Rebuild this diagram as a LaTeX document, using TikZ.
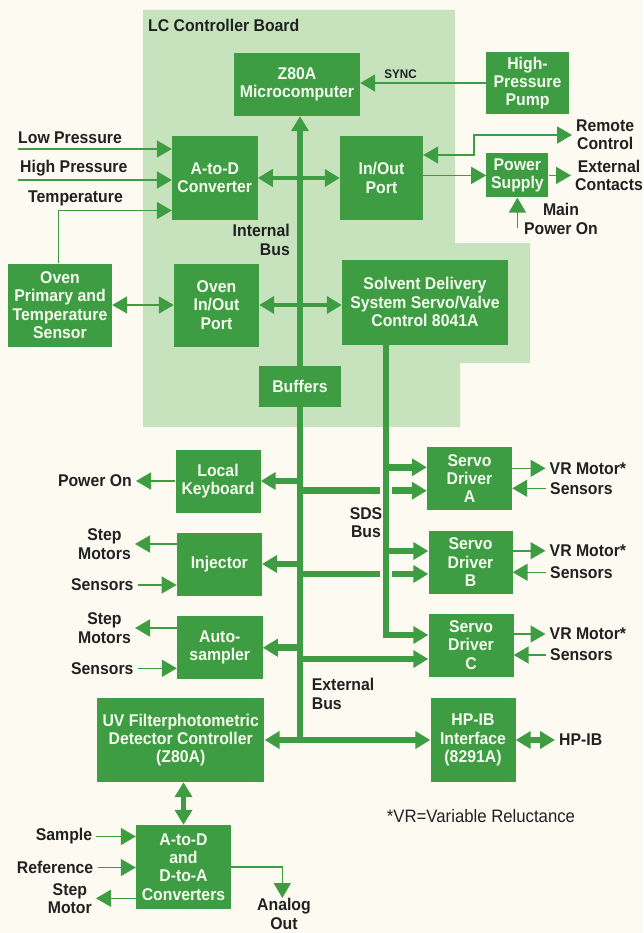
\documentclass[tikz,border=0pt]{standalone}
\usepackage{fontspec}
\setsansfont{Liberation Sans}
\newfontfamily\boardfam{Liberation Sans}[FakeStretch=0.93]
\usetikzlibrary{arrows.meta,calc}
\definecolor{paper}{RGB}{252,250,241}
\definecolor{board}{RGB}{199,227,190}
\definecolor{dg}{RGB}{62,157,66}
\definecolor{boxtext}{RGB}{244,251,238}
\definecolor{ink}{RGB}{32,34,32}
\newcommand\boardfont{\boardfam\bfseries\fontsize{17}{18.3}\selectfont}
\tikzset{
    box/.style =    {rectangle,
                    fill=dg,
                    text=boxtext,
                    align=center,
                    inner sep=0pt,
                    font=\boardfont},
    boxsize/.style 2 args = {minimum width=#1pt,
                    minimum height=#2pt},
    lbl/.style =    {text=ink,
                    align=center,
                    inner xsep=4pt,
                    inner ysep=0pt,
                    font=\boardfont},
    sig/.style =    {draw=dg, line width=1.6pt},
    mid/.style =    {draw=dg, line width=4.5pt},
    bus/.style =    {draw=dg, line width=6.5pt},
    >={Triangle[length=15pt,width=17pt]}}

\begin{document}
\begin{tikzpicture}[x=1pt,y=-1pt]
    \useasboundingbox (0,0) rectangle (643,933);
    \fill[paper] (0,0) rectangle (643,933);
    % controller board
    \fill[board] (143,10) -- (455,10) -- (455,243) -- (530,243) -- (530,363)
        -- (460,363) -- (460,427) -- (143,427) -- cycle;
    \node[lbl, anchor=west] (title) at (144,25) {LC Controller Board};

    % boxes on the board
    \node[box, boxsize={126}{63}]   (z80)     at (297,84.5)  {Z80A\\Microcomputer};
    \node[box, boxsize={85.5}{84}]  (adc)     at (214.8,178) {A-to-D\\Converter};
    \node[box, boxsize={83}{84}]    (inout)   at (381.5,178) {In/Out\\Port};
    \node[box, boxsize={85}{83}]    (ovenio)  at (216.5,305) {Oven\\In/Out\\Port};
    \node[box, boxsize={166}{85}]   (sds)     at (425,302)   {Solvent Delivery\\System Servo/Valve\\Control 8041A};
    \node[box, boxsize={82}{41}]    (buffers) at (300,386.6) {Buffers};

    % boxes off the board
    \node[box, boxsize={83}{62}]    (pump)    at (527.5,83)  {High-\\Pressure\\Pump};
    \node[box, boxsize={62}{44}]    (psu)     at (517.4,175.4) {Power\\Supply};
    \node[box, boxsize={104}{83}]   (oven)    at (60,305)    {Oven\\Primary and\\Temperature\\Sensor};
    \node[box, boxsize={85}{63}]    (keyb)    at (218,481)   {Local\\Keyboard};
    \node[box, boxsize={85}{63}]    (inj)     at (219.3,564) {Injector};
    \node[box, boxsize={85.5}{63.5}] (auto)   at (219.8,647.7) {Auto-\\sampler};
    \node[box, boxsize={85}{63}]    (servoA)  at (469.5,478.7) {Servo\\Driver\\A};
    \node[box, boxsize={84}{63}]    (servoB)  at (470.5,562.3) {Servo\\Driver\\B};
    \node[box, boxsize={85}{63}]    (servoC)  at (471,645)   {Servo\\Driver\\C};
    \node[box, boxsize={167.5}{84}] (uv)      at (180.7,740) {UV Filterphotometric\\Detector Controller\\(Z80A)};
    \node[box, boxsize={85}{84}]    (hpib)    at (473,740)   {HP-IB\\Interface\\(8291A)};
    \node[box, boxsize={95}{84}]    (conv)    at (183.5,867) {A-to-D\\and\\D-to-A\\Converters};

    % labels
    \node[lbl, font=\boardfam\bfseries\fontsize{12.5}{14}\selectfont] (sync) at (400.5,74) {SYNC};
    \node[lbl, anchor=west]  (lowp)    at (14,138)    {Low Pressure};
    \node[lbl, anchor=west]  (highp)   at (16,168)    {High Pressure};
    \node[lbl, anchor=west]  (temp)    at (24,198)    {Temperature};
    \node[lbl, anchor=east, align=right] (intbus) at (294,240) {Internal\\Bus};
    \node[lbl, anchor=west]  (remote)  at (572,135)   {Remote\\Control};
    \node[lbl, anchor=west]  (ext)     at (571,175.4) {External\\Contacts};
    \node[lbl]               (mainpwr) at (561,219)   {Main\\Power On};
    \node[lbl, anchor=east]  (pwron)   at (136,481)   {Power On};
    \node[lbl, anchor=east]  (stepI)   at (135,544)   {Step\\Motors};
    \node[lbl, anchor=east]  (sensI)   at (137.7,585) {Sensors};
    \node[lbl, anchor=east]  (stepS)   at (135,628)   {Step\\Motors};
    \node[lbl, anchor=east]  (sensS)   at (137.7,668.3) {Sensors};
    \node[lbl]               (sdslbl)  at (366,522.5) {SDS\\Bus};
    \node[lbl, anchor=west]  (vrA)     at (545.5,468.3) {VR Motor*};
    \node[lbl, anchor=west]  (sensA)   at (546,488.3) {Sensors};
    \node[lbl, anchor=west]  (vrB)     at (545.5,550.7) {VR Motor*};
    \node[lbl, anchor=west]  (sensB)   at (546,572.3) {Sensors};
    \node[lbl, anchor=west]  (vrC)     at (545.5,634)   {VR Motor*};
    \node[lbl, anchor=west]  (sensC)   at (546,655)   {Sensors};
    \node[lbl, anchor=west, align=left] (extbus) at (307.7,694) {External\\Bus};
    \node[lbl, anchor=west]  (hpiblbl) at (555,740)   {HP-IB};
    \node[lbl, font=\boardfam\fontsize{18}{20}\selectfont] (vrnote) at (481,815.7) {*VR=Variable Reluctance};
    \node[lbl, anchor=east]  (sample)  at (96.3,836.5) {Sample};
    \node[lbl, anchor=east]  (refer)   at (97.5,867.5) {Reference};
    \node[lbl, anchor=east]  (stepC)   at (96,898.3)  {Step\\Motor};
    \node[lbl]               (analog)  at (284,914)   {Analog\\Out};

    % free ends and bus taps
    \coordinate (lowin)   at (18,149);
    \coordinate (highin)  at (18,180);
    \coordinate (tempin)  at (58.5,210.5);
    \coordinate (rcbend)  at (474,155);
    \coordinate (mainin)  at (517.4,228);
    \coordinate (busend)  at (300,740);
    \coordinate (sdsbot)  at (386,635);
    \coordinate (sdsA)    at (386,467.3);
    \coordinate (sdsB)    at (386,551);
    \coordinate (tapkey)  at (300,481);
    \coordinate (tapA)    at (300,490.7);
    \coordinate (tapinj)  at (300,564);
    \coordinate (tapB)    at (300,574);
    \coordinate (tapauto) at (300,647.7);
    \coordinate (tapC)    at (300,659);
    \coordinate (anbend)  at (282.3,866.7);
    \coordinate (antip)   at (282.3,898);

    % board connections
    \draw[sig,->] (pump) -- (pump.west -| z80.east);
    \draw[sig,->] (lowin) -- (lowin -| adc.west);
    \draw[sig,->] (highin) -- (highin -| adc.west);
    \draw[sig,->] (oven.north -| tempin) -- (tempin) -- (tempin -| adc.west);
    \draw[mid,<->] (adc) -- (inout);
    \draw[sig,<->] (rcbend -| inout.east) -- (rcbend) |- (remote.west);
    \draw[sig,->] (inout.east |- psu.west) -- (psu.west);
    \draw[sig,->] (psu.east) -- (ext.west);
    \draw[sig,->] (mainin) -- (psu.south);
    \draw[sig,<->] (oven) -- (ovenio);
    \draw[mid,<->] (ovenio.east) -- (ovenio.east -| sds.west);

    % internal and external bus
    \draw[bus,->] (buffers.north) -- (buffers.north |- z80.south);
    \draw[bus] (buffers.south) -- (busend);
    \draw[bus,->] (tapkey) -- (keyb);
    \draw[bus,->] (tapinj) -- (inj);
    \draw[bus,->] (tapauto) -- (auto);
    \draw[bus] (tapA) -- ([xshift=-6pt]tapA -| sdsbot);
    \draw[bus,->] ([xshift=6pt]tapA -| sdsbot) -- (tapA -| servoA.west);
    \draw[bus] (tapB) -- ([xshift=-6pt]tapB -| sdsbot);
    \draw[bus,->] ([xshift=6pt]tapB -| sdsbot) -- (tapB -| servoB.west);
    \draw[bus,->] (tapC) -- (tapC -| servoC.west);
    \draw[bus,<->] (uv) -- (hpib);
    \draw[bus,<->] (hpib.east) -- (hpiblbl.west);

    % SDS bus
    \draw[bus,->] (sds.south -| sdsbot) -- (sdsbot) -- (sdsbot -| servoC.west);
    \draw[bus,->] (sdsA) -- (sdsA -| servoA.west);
    \draw[bus,->] (sdsB) -- (sdsB -| servoB.west);

    % peripherals
    \draw[sig,->] (keyb) -- (pwron.east);
    \draw[sig,->] (stepI.east -| inj.west) -- (stepI.east);
    \draw[sig,->] (sensI.east) -- (sensI.east -| inj.west);
    \draw[sig,->] (stepS.east -| auto.west) -- (stepS.east);
    \draw[sig,->] (sensS.east) -- (sensS.east -| auto.west);
    \draw[sig,->] (servoA.east |- vrA.west) -- (vrA.west);
    \draw[sig,->] (sensA.west) -- (sensA.west -| servoA.east);
    \draw[sig,->] (servoB.east |- vrB.west) -- (vrB.west);
    \draw[sig,->] (sensB.west) -- (sensB.west -| servoB.east);
    \draw[sig,->] (servoC.east |- vrC.west) -- (vrC.west);
    \draw[sig,->] (sensC.west) -- (sensC.west -| servoC.east);

    % detector
    \draw[mid,<->] (conv.north) -- (conv.north |- uv.south);
    \draw[sig,->] (sample.east) -- (sample.east -| conv.west);
    \draw[sig,->] (refer.east) -- (refer.east -| conv.west);
    \draw[sig,->] (stepC.east -| conv.west) -- (stepC.east);
    \draw[sig,->] (conv.east |- anbend) -- (anbend) -- (antip);
\end{tikzpicture}
\end{document}
